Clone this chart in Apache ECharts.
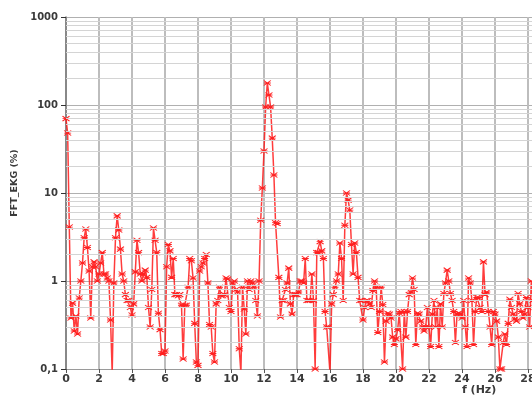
<!DOCTYPE html>
<html>
<head>
<meta charset="utf-8">
<style>
  html, body { margin: 0; padding: 0; background: #fff; }
  #chart { width: 532px; height: 397px; }
</style>
<script src="https://cdn.jsdelivr.net/npm/echarts@6/dist/echarts.min.js"></script>
</head>
<body>
<div id="chart"></div>
<script>
// spectrum samples, one every 0.1 Hz starting at 0 Hz
const freqStep = 0.1
const amplitude = [
  70, 48, 4.1, 0.38, 0.56, 0.27, 0.4, 0.25, 0.64, 1.0,
  1.6, 3.1, 3.9, 2.4, 1.3, 0.38, 1.45, 1.65, 1.45, 1.0,
  1.2, 1.6, 2.1, 1.2, 1.2, 1.08, 1.0, 0.36, 0.09, 0.95,
  3.1, 5.5, 3.8, 2.3, 1.2, 1.0, 0.7, 0.6, 0.6, 0.5,
  0.41, 0.55, 1.27, 2.9, 2.1, 1.2, 1.0, 1.2, 1.33, 1.1,
  0.5, 0.3, 0.8, 4.0, 2.9, 2.1, 0.43, 0.28, 0.15, 0.15,
  0.16, 1.45, 2.6, 2.2, 1.1, 1.8, 0.7, 0.7, 0.68, 0.7,
  0.53, 0.13, 0.53, 0.53, 0.85, 1.8, 1.7, 1.08, 0.33, 0.12,
  0.11, 1.3, 1.45, 1.6, 1.8, 2.0, 0.95, 0.32, 0.3, 0.15,
  0.12, 0.55, 0.6, 0.85, 0.68, 0.68, 0.7, 1.08, 1.05, 0.5,
  0.45, 0.95, 1.0, 0.8, 0.75, 0.17, 0.09, 0.85, 0.48, 0.25,
  1.0, 0.8, 1.0, 0.95, 0.85, 0.6, 0.4, 1.0, 4.9, 11.4,
  30, 95, 178, 130, 95, 42, 16, 4.6, 4.5, 1.1,
  0.39, 0.6, 0.6, 0.8, 0.95, 1.4, 0.55, 0.42, 0.7, 0.7,
  0.7, 0.75, 1.0, 1.0, 0.95, 1.8, 0.6, 0.6, 0.6, 1.2,
  0.6, 0.1, 2.1, 2.1, 2.8, 2.2, 1.8, 0.45, 0.3, 0.3,
  0.09, 0.55, 0.7, 0.85, 1.0, 1.2, 2.7, 1.8, 0.6, 4.3,
  10, 8.3, 6.4, 2.6, 1.2, 2.7, 2.1, 1.1, 0.6, 0.6,
  0.36, 0.5, 0.6, 0.6, 0.55, 0.5, 0.78, 1.0, 0.85, 0.26,
  0.45, 0.85, 0.54, 0.12, 0.35, 0.43, 0.42, 0.38, 0.23, 0.19,
  0.22, 0.28, 0.43, 0.45, 0.1, 0.45, 0.23, 0.45, 0.7, 0.75,
  1.08, 0.8, 0.19, 0.43, 0.42, 0.35, 0.3, 0.27, 0.3, 0.5,
  0.3, 0.18, 0.42, 0.6, 0.3, 0.5, 0.18, 0.55, 0.3, 0.72,
  0.95, 1.33, 1.0, 0.72, 0.6, 0.45, 0.2, 0.42, 0.43, 0.42,
  0.38, 0.6, 0.3, 0.18, 1.08, 0.95, 0.6, 0.19, 0.45, 0.65,
  0.65, 0.5, 0.45, 1.65, 0.7, 0.75, 0.45, 0.3, 0.19, 0.45,
  0.42, 0.35, 0.23, 0.1, 0.1, 0.2, 0.25, 0.19, 0.33, 0.62,
  0.5, 0.42, 0.37, 0.35, 0.72, 0.55, 0.45, 0.38, 0.42, 0.65,
  0.5, 0.3, 1.0, 0.6
]
// minor log grid lines between the decades
const minorGrid = [
  0.2, 0.3, 0.4, 0.5, 0.6, 0.7, 0.8, 0.9,
  2, 3, 4, 5, 6, 7, 8, 9,
  20, 30, 40, 50, 60, 70, 80, 90,
  200, 300, 400, 500, 600, 700, 800, 900
]
const xName = 'f (Hz)'
const yName = 'FFT_EKG (%)'

const chart = echarts.init(document.getElementById('chart'))

const points = amplitude.map((v, i) => [+(i * freqStep).toFixed(1), v])
const labelFont = { fontFamily: 'DejaVu Sans', fontWeight: 'bold', color: '#3a3a3a' }

const option = {
  animation: false,
  grid: {
    left: 66,
    top: 17,
    bottom: 28,
    width: 495,
    outerBoundsMode: 'none',
    containLabel: false
  },
  xAxis: {
    type: 'value',
    min: 0,
    max: 30,
    interval: 2,
    axisLine: { lineStyle: { color: '#9a9a9a', width: 1 } },
    axisTick: { length: 4, lineStyle: { color: '#555' } },
    axisLabel: { ...labelFont, fontSize: 11, margin: 5 },
    splitLine: { lineStyle: { color: '#bdbdbd', width: 2 } }
  },
  yAxis: {
    type: 'log',
    logBase: 10,
    min: 0.1,
    max: 1000,
    name: yName,
    nameLocation: 'middle',
    nameRotate: 90,
    nameGap: 46,
    nameTextStyle: { ...labelFont, fontSize: 9.5, padding: [0, 0, 0, 20] },
    axisLine: { show: true, lineStyle: { color: '#777', width: 1.5 } },
    axisTick: { show: true, length: 5, lineStyle: { color: '#333' } },
    axisLabel: {
      ...labelFont,
      fontSize: 10,
      margin: 8,
      formatter: v => String(v).replace('.', ',')
    },
    splitLine: { lineStyle: { color: '#b0b0b0', width: 1 } }
  },
  graphic: [
    {
      type: 'text',
      left: 462,
      top: 385,
      style: { text: xName, font: 'bold 11px "DejaVu Sans"', fill: '#3a3a3a' }
    }
  ],
  series: [
    {
      // faint log grid
      type: 'line',
      data: [],
      z: 1,
      silent: true,
      markLine: {
        silent: true,
        symbol: 'none',
        label: { show: false },
        lineStyle: { color: '#d4d4d4', width: 1, type: 'solid' },
        data: minorGrid.map(v => ({ yAxis: v }))
      }
    },
    {
      type: 'line',
      data: points,
      z: 3,
      symbol: 'path://M0,0L10,6M10,0L0,6M0,3L10,3',
      symbolSize: [7, 5],
      itemStyle: { color: 'rgba(0,0,0,0)', borderColor: '#ff2020', borderWidth: 1 },
      lineStyle: { color: '#ff1a1a', width: 1.5, opacity: 0.85 }
    }
  ]
}

chart.setOption(option)
</script>
</body>
</html>
